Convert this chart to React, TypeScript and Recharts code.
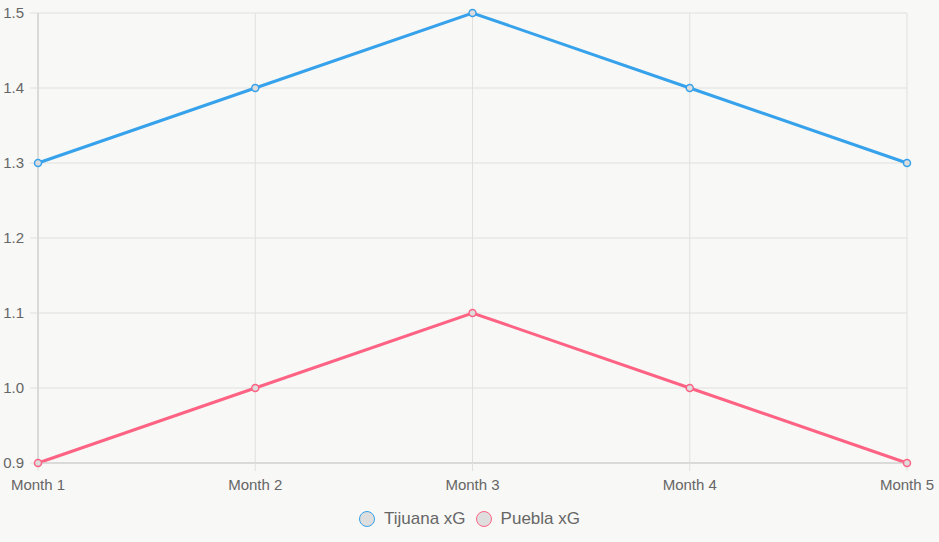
import { LineChart, Line, XAxis, YAxis, CartesianGrid, Legend } from 'recharts';

const months = ['Month 1', 'Month 2', 'Month 3', 'Month 4', 'Month 5'];
const tijuanaXG = [1.3, 1.4, 1.5, 1.4, 1.3];
const pueblaXG = [0.9, 1.0, 1.1, 1.0, 0.9];
const yTicks = [0.9, 1.0, 1.1, 1.2, 1.3, 1.4, 1.5];

const SERIES = [
  { key: 'tijuana', name: 'Tijuana xG', color: '#36A2EB' },
  { key: 'puebla', name: 'Puebla xG', color: '#FF6384' },
];

const data = months.map((m, i) => ({ month: m, tijuana: tijuanaXG[i], puebla: pueblaXG[i] }));

const FONT = '"Liberation Sans", Arial, Helvetica, sans-serif';

const renderLegend = () => (
  <div style={{ display: 'flex', justifyContent: 'center', alignItems: 'center', fontFamily: FONT, fontSize: 17, color: '#666' }}>
    {SERIES.map((s) => (
      <div key={s.key} style={{ display: 'flex', alignItems: 'center', margin: '0 5px' }}>
        <span style={{ width: 16, height: 16, borderRadius: '50%', border: `1.5px solid ${s.color}`, background: '#dedede', boxSizing: 'border-box', marginRight: 9 }} />
        <span>{s.name}</span>
      </div>
    ))}
  </div>
);

const App = () => {
  return (
    <div style={{ position: 'fixed', left: 0, top: 0, width: 939, height: 542, background: '#f8f8f6' }}>
      <LineChart width={939} height={542} data={data} margin={{ top: 13, right: 32, left: 0, bottom: 0 }}>
        <CartesianGrid stroke="#e0e0de" strokeWidth={1} />
        <XAxis dataKey="month" height={79} tickSize={8} tickMargin={8}
          tick={{ fill: '#666', fontSize: 15, fontFamily: FONT }}
          axisLine={{ stroke: '#c8c8c6' }} tickLine={{ stroke: '#e0e0de' }} />
        <YAxis width={38} domain={[0.9, 1.5]} ticks={yTicks} tickSize={8} tickMargin={6}
          tickFormatter={(v: number) => v.toFixed(1)}
          tick={{ fill: '#666', fontSize: 15, fontFamily: FONT }}
          axisLine={{ stroke: '#c8c8c6' }} tickLine={{ stroke: '#e0e0de' }} />
        <Legend layout="horizontal" verticalAlign="middle" content={renderLegend}
          wrapperStyle={{ top: 509, left: 0, width: 939 }} />
        {SERIES.map((s) => (
          <Line key={s.key} type="linear" dataKey={s.key} name={s.name} stroke={s.color} strokeWidth={3}
            dot={{ r: 3.5, fill: '#dcdcdc', stroke: s.color, strokeWidth: 1.5 }}
            activeDot={false} isAnimationActive={false} />
        ))}
      </LineChart>
    </div>
  );
};

export default App;
